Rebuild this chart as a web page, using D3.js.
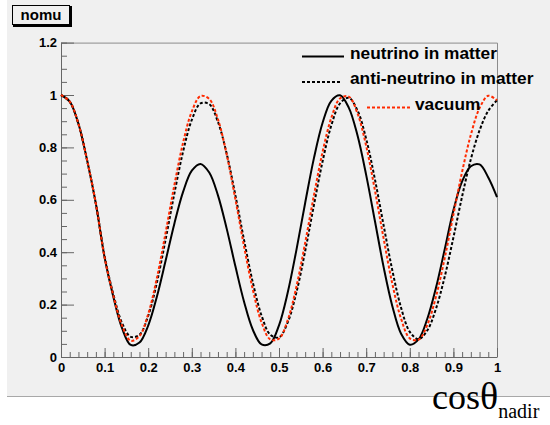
<!DOCTYPE html>
<html>
<head>
<meta charset="utf-8">
<script src="https://cdn.jsdelivr.net/npm/d3@7"></script>
<style>
  html, body { margin: 0; padding: 0; background: #ffffff; }
  svg { display: block; }
</style>
</head>
<body>
<svg id="chart" width="550" height="425"></svg>
<script>
// ---------- data ----------
const cosNadir = [0,0.02,0.04,0.06,0.08,0.10,0.12,0.14,0.16,0.18,0.20,0.22,0.24,0.26,0.28,0.30,0.32,0.34,0.36,0.38,0.40,0.42,0.44,0.46,0.48,0.50,0.52,0.54,0.56,0.58,0.60,0.62,0.64,0.66,0.68,0.70,0.72,0.74,0.76,0.78,0.80,0.82,0.84,0.86,0.88,0.90,0.92,0.94,0.96,0.98,1.00];

const neutrinoMatter = [1.0,0.975,0.89,0.75,0.585,0.38,0.23,0.11,0.046,0.055,0.12,0.231,0.368,0.509,0.63,0.711,0.737,0.704,0.617,0.49,0.346,0.21,0.104,0.048,0.052,0.121,0.246,0.409,0.588,0.758,0.894,0.978,0.999,0.952,0.846,0.694,0.519,0.343,0.194,0.089,0.047,0.067,0.145,0.264,0.41,0.56,0.67,0.728,0.735,0.685,0.61];

const antiNeutrinoMatter = [1.0,0.975,0.89,0.75,0.585,0.385,0.24,0.13,0.077,0.085,0.157,0.285,0.449,0.624,0.784,0.905,0.968,0.965,0.897,0.776,0.617,0.445,0.284,0.158,0.085,0.075,0.132,0.247,0.404,0.579,0.747,0.884,0.968,0.989,0.941,0.832,0.678,0.502,0.33,0.188,0.096,0.068,0.101,0.184,0.306,0.456,0.613,0.755,0.865,0.94,0.98];

const vacuum = [1.0,0.975,0.89,0.75,0.585,0.38,0.235,0.12,0.062,0.08,0.164,0.302,0.475,0.656,0.818,0.937,0.996,0.985,0.907,0.773,0.602,0.421,0.257,0.132,0.067,0.07,0.141,0.269,0.436,0.616,0.783,0.913,0.987,0.994,0.93,0.805,0.636,0.452,0.279,0.146,0.071,0.066,0.122,0.23,0.377,0.543,0.707,0.848,0.95,0.997,0.98];

const xTicks = [0,0.1,0.2,0.3,0.4,0.5,0.6,0.7,0.8,0.9,1.0];
const yTicks = [0,0.2,0.4,0.6,0.8,1.0,1.2];
const seriesNames = ["neutrino in matter","anti-neutrino in matter","vacuum"];

// ---------- drawing ----------
const svg = d3.select("#chart");
const W = 550, H = 425;
const x = d3.scaleLinear().domain([0,1]).range([61,497]);
const y = d3.scaleLinear().domain([0,1.2]).range([357,42.6]);

// pad background
svg.append("rect").attr("x",7).attr("y",0).attr("width",W-7).attr("height",396).attr("fill","#f0f0f0");
svg.append("line").attr("x1",7).attr("x2",W).attr("y1",396.5).attr("y2",396.5).attr("stroke","#a8a8a8").attr("stroke-width",1);

// frame top/right
svg.append("path")
  .attr("d",`M${x(0)},${y(1.2)+0.5}H${x(1)+0.5}V${y(0)}`)
  .attr("fill","none").attr("stroke","#8c8c8c").attr("stroke-width",1);

const fmt = d => d === 0 ? "0" : String(+d.toFixed(1));
const tickColor = "#666";

// x axis: minor ticks
const xMinor = d3.range(0,1.0001,0.02).map(v=>+v.toFixed(2));
const gxMinor = svg.append("g").attr("transform",`translate(0,${y(0)})`)
  .call(d3.axisBottom(x).tickValues(xMinor).tickSize(-5).tickSizeOuter(0).tickFormat(""));
gxMinor.select(".domain").remove();
gxMinor.selectAll("line").attr("stroke",tickColor);

const gx = svg.append("g").attr("transform",`translate(0,${y(0)})`)
  .call(d3.axisBottom(x).tickValues(xTicks).tickSize(-9).tickSizeOuter(0).tickPadding(6).tickFormat(fmt));
gx.select(".domain").attr("stroke",tickColor);
gx.selectAll("line").attr("stroke",tickColor);
gx.selectAll("text").attr("fill","#000").style("font-family","'Liberation Sans', Arial, sans-serif")
  .style("font-weight","bold").style("font-size","13px");

// y axis: minor ticks
const yMinor = d3.range(0,1.2001,0.05).map(v=>+v.toFixed(2));
const gyMinor = svg.append("g").attr("transform",`translate(${x(0)},0)`)
  .call(d3.axisLeft(y).tickValues(yMinor).tickSize(-6).tickSizeOuter(0).tickFormat(""));
gyMinor.select(".domain").remove();
gyMinor.selectAll("line").attr("stroke",tickColor);

const gy = svg.append("g").attr("transform",`translate(${x(0)},0)`)
  .call(d3.axisLeft(y).tickValues(yTicks).tickSize(-13).tickSizeOuter(0).tickPadding(4).tickFormat(fmt));
gy.select(".domain").attr("stroke",tickColor);
gy.selectAll("line").attr("stroke",tickColor);
gy.selectAll("text").attr("fill","#000").style("font-family","'Liberation Sans', Arial, sans-serif")
  .style("font-weight","bold").style("font-size","13px");

// curves
const line = d3.line().x((d,i)=>x(cosNadir[i])).y(d=>y(d)).curve(d3.curveCatmullRom.alpha(0.5));
const styles = [
  {data: neutrinoMatter, color:"#000", dash:null, width:2},
  {data: antiNeutrinoMatter, color:"#000", dash:"3,2", width:2},
  {data: vacuum, color:"#ff2a00", dash:"3,2", width:2}
];
styles.forEach(s=>{
  svg.append("path").attr("d",line(s.data)).attr("fill","none")
    .attr("stroke",s.color).attr("stroke-width",s.width)
    .attr("stroke-dasharray",s.dash);
});

// legend
const legendFont = "'Liberation Sans', Arial, sans-serif";
const legend = [
  {name: seriesNames[0], x1:302, x2:344, ly:56.5, tx:350, ty:58.5},
  {name: seriesNames[1], x1:302, x2:340, ly:82, tx:350, ty:84},
  {name: seriesNames[2], x1:367, x2:410, ly:107.5, tx:415, ty:110}
];
legend.forEach((l,i)=>{
  svg.append("line").attr("x1",l.x1).attr("x2",l.x2).attr("y1",l.ly).attr("y2",l.ly)
    .attr("stroke",styles[i].color).attr("stroke-width",2).attr("stroke-dasharray",styles[i].dash);
  svg.append("text").attr("x",l.tx).attr("y",l.ty).text(l.name)
    .style("font-family",legendFont).style("font-weight","bold").style("font-size","17.3px").attr("fill","#000");
});

// title box
svg.append("path").attr("d","M13,26H71V6").attr("fill","none").attr("stroke","#000").attr("stroke-width",2);
svg.append("rect").attr("x",12.5).attr("y",5.5).attr("width",57).attr("height",19)
  .attr("fill","#f0f0f0").attr("stroke","#000").attr("stroke-width",1);
svg.append("text").attr("x",41).attr("y",19.5).attr("text-anchor","middle").text("nomu")
  .style("font-family",legendFont).style("font-weight","bold").style("font-size","15px");

// x axis title
const xt = svg.append("text").attr("x",432).attr("y",408.5)
  .style("font-family","'Liberation Serif', 'Times New Roman', serif").style("font-size","36px").attr("fill","#000");
xt.append("tspan").text("cos");
xt.append("tspan").style("font-size","38px").text("θ");
xt.append("tspan").attr("dy",9).style("font-size","20px").text("nadir");
</script>
</body>
</html>
